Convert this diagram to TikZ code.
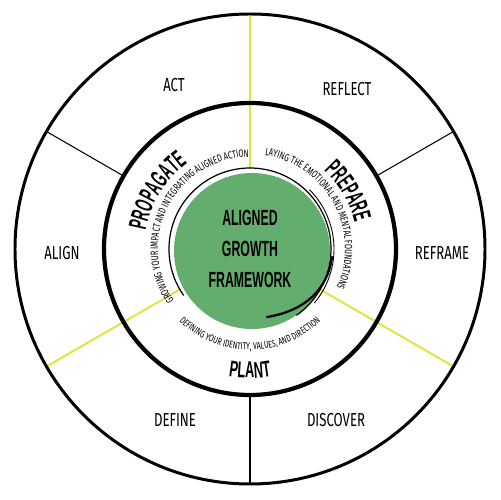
\documentclass[tikz,border=0pt]{standalone}
\usepackage{fontspec}
\setmainfont{Fira Sans}
\newfontfamily\ringfont{Fira Sans}[FakeStretch=0.70]
\newfontfamily\titlefont{Liberation Sans}[FakeStretch=0.56]
\newfontfamily\capfont{Fira Sans}
\newfontfamily\phasefont{Liberation Sans}
\definecolor{growgreen}{RGB}{99,173,111}
\definecolor{spokeyellow}{RGB}{226,226,64}

% letters set one by one round an arc: font, xscale, radius, centre angle, 1 = clockwise / -1 = anticlockwise, text
\ExplSyntaxOn
\fp_new:N \l_arc_total_fp
\fp_new:N \l_arc_pos_fp
\fp_new:N \l_arc_w_fp
\fp_new:N \l_arc_theta_fp
\box_new:N \g_arc_box
\tl_new:N \l_arc_x_tl
\tl_new:N \l_arc_y_tl
\tl_new:N \l_arc_rot_tl
\cs_new_protected:Npn \arc_measure:nnn #1#2#3
  {
    \pgfinterruptpicture
      \str_if_eq:nnTF {#3} {~}
        { \hbox_gset:Nn \g_arc_box { #1 \hskip\fontdimen2\font } }
        { \hbox_gset:Nn \g_arc_box { #1 #3 } }
    \endpgfinterruptpicture
    \fp_set:Nn \l_arc_w_fp { \dim_to_fp:n { \box_wd:N \g_arc_box } * #2 }
  }
\NewDocumentCommand \arctext { m m m m m m }
  {
    \fp_zero:N \l_arc_total_fp
    \str_map_inline:nn {#6}
      {
        \arc_measure:nnn {#1} {#2} {##1}
        \fp_add:Nn \l_arc_total_fp { \l_arc_w_fp }
      }
    \fp_zero:N \l_arc_pos_fp
    \str_map_inline:nn {#6}
      {
        \arc_measure:nnn {#1} {#2} {##1}
        \fp_set:Nn \l_arc_theta_fp
          { #4 + #5 * ( \l_arc_total_fp / 2 - \l_arc_pos_fp - \l_arc_w_fp / 2 ) / ( #3 * 0.5669291 ) * 180 / pi }
        \tl_set:Nx \l_arc_x_tl { \fp_eval:n { #3 * cosd ( \l_arc_theta_fp ) } }
        \tl_set:Nx \l_arc_y_tl { \fp_eval:n { #3 * sind ( \l_arc_theta_fp ) } }
        \tl_set:Nx \l_arc_rot_tl { \fp_eval:n { \l_arc_theta_fp - #5 * 90 } }
        \str_if_eq:nnF {##1} {~}
          {
            \node [ anchor=base, inner~sep=0pt, font={#1}, rotate=\l_arc_rot_tl, xscale=#2 ]
              at (\l_arc_x_tl, \l_arc_y_tl) {##1};
          }
        \fp_add:Nn \l_arc_pos_fp { \l_arc_w_fp }
      }
  }
\ExplSyntaxOff

\begin{document}
\begin{tikzpicture}[x=0.02cm, y=0.02cm]
  \tikzset{
    spoke/.style={spokeyellow, line width=1.1pt},
    divider/.style={black, line width=0.6pt},
    ringlabel/.style={font=\ringfont\fontsize{10.7}{12}\selectfont}
  }
  \useasboundingbox (-250,-251) rectangle (250,249);

  % Spokes and dividers
  \foreach \a in {90,210,330}
    \draw[spoke] (\a:80) -- (\a:235);
  \foreach \a in {30,150,270}
    \draw[divider] (\a:146) -- (\a:235);

  % Rings
  \draw[line width=1.7pt] (0,0) circle[radius=235];
  \draw[line width=2.4pt] (0,0) circle[radius=146];

  % Centre disc
  \fill[growgreen] (2,-2) circle[radius=78];
  \draw[line width=0.7pt] (215:81) arc[start angle=215, end angle=-55, radius=81];
  \draw[line width=0.5pt] (45:84) arc[start angle=45, end angle=-40, radius=84];
  \draw[line width=1.3pt, line cap=round] (17,-68) .. controls (55,-62) and (78,-40) .. (82,-8);
  \node[font=\titlefont\bfseries\fontsize{12.5}{17.6}\selectfont, align=center] (title) at (0,0) {ALIGNED\\GROWTH\\FRAMEWORK};

  % Outer ring labels
  \node[ringlabel] (act)      at (-76,164) {ACT};
  \node[ringlabel] (reflect)  at (97,160)  {REFLECT};
  \node[ringlabel] (align)    at (-188,-4) {ALIGN};
  \node[ringlabel] (reframe)  at (192,-4)  {REFRAME};
  \node[ringlabel] (define)   at (-75,-171) {DEFINE};
  \node[ringlabel] (discover) at (86,-171) {DISCOVER};

  % Phase names
  \arctext{\phasefont\bfseries\fontsize{14.5}{14.5}\selectfont}{0.5}{106}{148}{1}{PROPAGATE}
  \arctext{\phasefont\bfseries\fontsize{14.5}{14.5}\selectfont}{0.5}{108}{30.5}{1}{PREPARE}
  \arctext{\phasefont\bfseries\fontsize{13}{13}\selectfont}{0.56}{129}{270}{-1}{PLANT}

  % Phase captions
  \arctext{\capfont\fontsize{6}{6}\selectfont}{0.7}{92}{152.5}{1}{GROWING YOUR IMPACT AND INTEGRATING ALIGNED ACTION}
  \arctext{\capfont\fontsize{6}{6}\selectfont}{0.7}{95}{28.5}{1}{LAYING THE EMOTIONAL AND MENTAL FOUNDATIONS}
  \arctext{\capfont\fontsize{5.6}{6}\selectfont}{0.7}{101}{270}{-1}{DEFINING YOUR IDENTITY, VALUES, AND DIRECTION}
\end{tikzpicture}
\end{document}
